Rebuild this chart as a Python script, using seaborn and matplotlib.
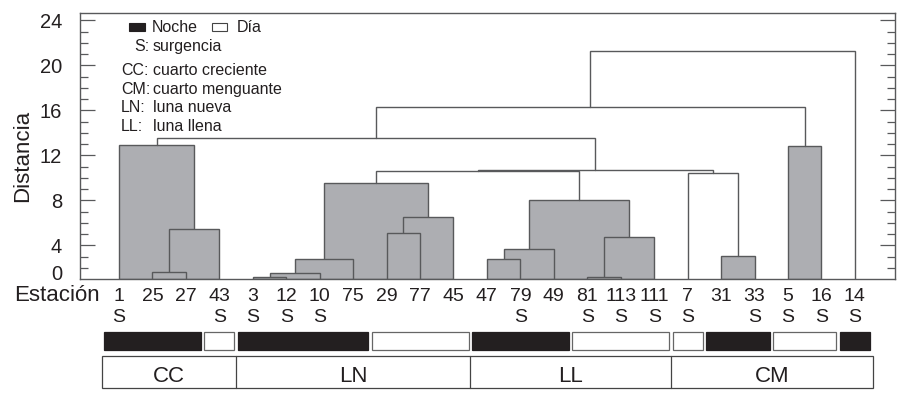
import matplotlib
matplotlib.use("Agg")
import matplotlib.pyplot as plt
from matplotlib.patches import Rectangle
from matplotlib.lines import Line2D
from matplotlib.transforms import blended_transform_factory
import seaborn as sns

# ---------------- data ----------------
stations = ["1", "25", "27", "43", "3", "12", "10", "75", "29", "77", "45",
            "47", "79", "49", "81", "113", "111", "7", "31", "33", "5", "16", "14"]
upwelling = ["1", "43", "3", "12", "10", "79", "81", "113", "111", "7",
             "33", "5", "16", "14"]
day_night = ["N", "N", "N", "D", "N", "N", "N", "N", "D", "D", "D",
             "N", "N", "N", "D", "D", "D", "D", "N", "N", "D", "D", "N"]
moon_phase = ["CC"] * 4 + ["LN"] * 7 + ["LL"] * 6 + ["CM"] * 6

# linkage: indices < 23 are leaves, >= 23 refer to earlier merges (23 + k)
merge_left = [1, 23, 0, 4, 26, 27, 8, 29, 28, 11, 32, 14, 34, 33, 31, 18, 17, 37, 25, 20, 41, 43]
merge_right = [2, 3, 24, 5, 6, 7, 9, 10, 30, 12, 13, 15, 16, 35, 36, 19, 38, 39, 40, 21, 42, 22]
merge_dist = [1.59, 5.45, 12.92, 1.17, 1.53, 2.81, 5.13, 6.50, 9.53, 2.81, 3.64,
              1.17, 4.78, 8.01, 10.60, 3.02, 10.45, 10.73, 13.57, 12.85, 16.33, 21.24]
merge_filled = [True] * 14 + [False, True, False, False, False, True, False, False]

ytick_values = [4, 8, 12, 16, 20, 24]
legend_abbr = ["CC:", "CM:", "LN:", "LL:"]
legend_desc = ["cuarto creciente", "cuarto menguante", "luna nueva", "luna llena"]

# ---------------- style ----------------
sns.set_theme(style="ticks")
plt.rcParams["font.family"] = ["Liberation Sans", "DejaVu Sans"]
TXT = "#231f20"
GRAY = "#adaeb2"
EDGE = "#58595b"
BASE = 1.0

W, H = 905, 393
fig = plt.figure(figsize=(W / 100, H / 100), dpi=100)
fig.patch.set_facecolor("white")
ax = fig.add_axes([80 / W, 1 - 279 / H, 815 / W, 266 / H])
ax.set_facecolor("white")


def fx(px):
    return px / W


def fy(px):
    return 1 - px / H


# ---------------- dendrogram ----------------
n = len(stations)
pos = {i: float(i) for i in range(n)}
top = {i: BASE for i in range(n)}
boxes, links = [], []
for k, (l, r, d, f) in enumerate(zip(merge_left, merge_right, merge_dist, merge_filled)):
    idx = n + k
    xl, xr = pos[l], pos[r]
    pos[idx] = (xl + xr) / 2
    top[idx] = d
    if f:
        boxes.append((xl, xr, d))
    else:
        links.append((xl, xr, top[l], top[r], d))

for xl, xr, d in sorted(boxes, key=lambda b: -b[2]):
    ax.bar((xl + xr) / 2, d - BASE, width=xr - xl, bottom=BASE, color=GRAY,
           edgecolor=EDGE, linewidth=1.0, zorder=2)
for xl, xr, hl, hr, d in links:
    ax.plot([xl, xl, xr, xr], [hl, d, d, hr], color=EDGE, lw=1.0, zorder=3,
            solid_joinstyle="miter")

ax.set_xlim(-1.166, 23.2)
ax.set_ylim(BASE, 24.66)
ax.set_xticks([])
ax.set_yticks([1.6] + ytick_values, labels=["0"] + [str(v) for v in ytick_values])
ax.set_yticks([v for v in range(2, 24) if v % 4 != 0], minor=True)
ax.tick_params(axis="y", which="major", direction="in", length=11, width=0.9,
               color=EDGE, left=True, right=True, labelsize=14.5, labelcolor=TXT, pad=13)
ax.tick_params(axis="y", which="minor", direction="in", length=5.5, width=0.9,
               color=EDGE, left=True, right=True)
t0 = ax.yaxis.get_major_ticks()[0]
t0.tick1line.set_visible(False)
t0.tick2line.set_visible(False)
for s in ax.spines.values():
    s.set_visible(True)
    s.set_color(EDGE)
    s.set_linewidth(1.0)
ax.grid(False)

fig.text(fx(28.5), fy(156), "Distancia", rotation=90, rotation_mode="anchor",
         ha="center", va="baseline", fontsize=16, color=TXT)

# ---------------- legend (top-left) ----------------
LFS = 11.5
fig.add_artist(Rectangle((fx(129), fy(31)), fx(16), 8 / H, transform=fig.transFigure,
                         facecolor="#231f20", edgecolor="#231f20", lw=0.8))
fig.text(fx(152), fy(31.5), "Noche", fontsize=LFS, color=TXT, va="baseline")
fig.add_artist(Rectangle((fx(212), fy(31)), fx(15), 8 / H, transform=fig.transFigure,
                         facecolor="white", edgecolor="#444444", lw=0.8))
fig.text(fx(237), fy(31.5), "Día", fontsize=LFS, color=TXT, va="baseline")
fig.text(fx(134), fy(50.7), "S:", fontsize=LFS, color=TXT, va="baseline")
fig.text(fx(153), fy(50.7), "surgencia", fontsize=LFS, color=TXT, va="baseline")
for j, (a, dsc) in enumerate(zip(legend_abbr, legend_desc)):
    yb = 75 + j * 18.7
    fig.text(fx(121), fy(yb), a, fontsize=LFS, color=TXT, va="baseline")
    fig.text(fx(153), fy(yb), dsc, fontsize=LFS, color=TXT, va="baseline")

# ---------------- rows below the axis ----------------
tr = blended_transform_factory(ax.transData, fig.transFigure)
fig.text(fx(100), fy(301), "Estación", ha="right", va="baseline", fontsize=16, color=TXT)
for i, s in enumerate(stations):
    fig.text(i, fy(301), s, transform=tr, ha="center", va="baseline", fontsize=14, color=TXT)
    if s in upwelling:
        fig.text(i, fy(322), "S", transform=tr, ha="center", va="baseline",
                 fontsize=14, color=TXT)

# day / night runs (split by moon phase too)
runs = []
for i, (dn, ph) in enumerate(zip(day_night, moon_phase)):
    if runs and runs[-1][2] == dn and runs[-1][3] == ph:
        runs[-1][1] = i
    else:
        runs.append([i, i, dn, ph])
for a, b, dn, ph in runs:
    fc = "#231f20" if dn == "N" else "white"
    ec = "#231f20" if dn == "N" else "#666666"
    fig.add_artist(Rectangle((a - 0.45, fy(350)), (b - a) + 0.9, 18 / H, transform=tr,
                             facecolor=fc, edgecolor=ec, lw=0.9, clip_on=False))

# moon phase boxes
phases = []
for i, ph in enumerate(moon_phase):
    if phases and phases[-1][2] == ph:
        phases[-1][1] = i
    else:
        phases.append([i, i, ph])
left_edge, right_edge = -0.5, n - 1 + 0.55
fig.add_artist(Rectangle((left_edge, fy(388)), right_edge - left_edge, 32 / H, transform=tr,
                         facecolor="none", edgecolor="#444444", lw=0.9, clip_on=False))
for k, (a, b, ph) in enumerate(phases):
    xa = left_edge if k == 0 else a - 0.5
    xb = right_edge if k == len(phases) - 1 else b + 0.5
    if k > 0:
        fig.add_artist(Line2D([xa, xa], [fy(388), fy(356)], transform=tr,
                              color="#444444", lw=0.9))
    fig.text((xa + xb) / 2, fy(382), ph, transform=tr, ha="center", va="baseline",
             fontsize=16, color=TXT)

fig.savefig("out.png", dpi=100)
